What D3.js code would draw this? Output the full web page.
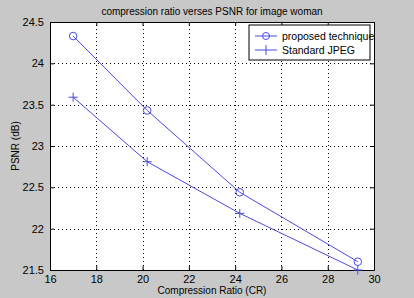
<!DOCTYPE html>
<html>
<head>
<meta charset="utf-8">
<script src="https://cdn.jsdelivr.net/npm/d3@7"></script>
<style>
  body { margin: 0; background: #c8c8c8; }
  svg { display: block; font-family: "Liberation Sans", Arial, sans-serif; }
  .tick text { font-size: 11px; fill: #000; }
</style>
</head>
<body>
<div id="chart"></div>
<script>
// values
const ratios = [17, 20.2, 24.2, 29.3];
const proposed = [24.33, 23.43, 22.44, 21.6];
const jpeg = [23.59, 22.81, 22.185, 21.5];
const xTicks = [16, 18, 20, 22, 24, 26, 28, 30];
const yTicks = [21.5, 22, 22.5, 23, 23.5, 24, 24.5];
const seriesNames = ["proposed technique", "Standard JPEG"];

const W = 414, H = 298;
const m = {left: 50, right: 40, top: 22, bottom: 28};
const lineColor = "#4a4ae0";

const svg = d3.select("#chart").append("svg")
    .attr("width", W).attr("height", H);

svg.append("rect").attr("width", W).attr("height", H).attr("fill", "#c8c8c8");

const x = d3.scaleLinear().domain([16, 30]).range([m.left, W - m.right]);
const y = d3.scaleLinear().domain([21.5, 24.5]).range([H - m.bottom, m.top]);

svg.append("rect")
    .attr("x", x(16)).attr("y", y(24.5))
    .attr("width", x(30) - x(16)).attr("height", y(21.5) - y(24.5))
    .attr("fill", "#fff");

// dotted grid
svg.append("g").selectAll("line").data(xTicks.slice(1, -1)).join("line")
    .attr("x1", d => Math.round(x(d)) + 0.5).attr("x2", d => Math.round(x(d)) + 0.5)
    .attr("y1", y(21.5)).attr("y2", y(24.5))
    .attr("stroke", "#000").attr("stroke-width", 1).attr("stroke-dasharray", "1,3");
svg.append("g").selectAll("line").data(yTicks.slice(1, -1)).join("line")
    .attr("y1", d => Math.round(y(d)) + 0.5).attr("y2", d => Math.round(y(d)) + 0.5)
    .attr("x1", x(16)).attr("x2", x(30))
    .attr("stroke", "#000").attr("stroke-width", 1).attr("stroke-dasharray", "1,3");

// axes
const xAxis = svg.append("g")
    .attr("transform", "translate(0," + y(21.5) + ")")
    .call(d3.axisBottom(x).tickValues(xTicks).tickSize(-4).tickSizeOuter(0).tickPadding(6));
const yAxis = svg.append("g")
    .attr("transform", "translate(" + x(16) + ",0)")
    .call(d3.axisLeft(y).tickValues(yTicks).tickSize(-4).tickSizeOuter(0).tickPadding(6)
        .tickFormat(d3.format("~g")));
svg.append("g")
    .attr("transform", "translate(0," + y(24.5) + ")")
    .call(d3.axisTop(x).tickValues(xTicks).tickSize(-4).tickSizeOuter(0).tickFormat(""));
svg.append("g")
    .attr("transform", "translate(" + x(30) + ",0)")
    .call(d3.axisRight(y).tickValues(yTicks).tickSize(-4).tickSizeOuter(0).tickFormat(""));
svg.selectAll(".domain, .tick line").attr("stroke", "#000");

xAxis.selectAll(".tick text").attr("dy", "0.6em");

// lines
const line = d3.line().x((d, i) => x(ratios[i])).y(d => y(d));
svg.append("g").selectAll("path.series").data([proposed, jpeg]).join("path")
    .attr("class", "series")
    .attr("d", line).attr("fill", "none")
    .attr("stroke", lineColor).attr("stroke-width", 1);

// markers
svg.append("g").selectAll("circle").data(proposed).join("circle")
    .attr("cx", (d, i) => x(ratios[i])).attr("cy", d => y(d)).attr("r", 3.8)
    .attr("fill", "none").attr("stroke", lineColor);
svg.append("g").selectAll("path").data(jpeg).join("path")
    .attr("transform", (d, i) => "translate(" + x(ratios[i]) + "," + y(d) + ")")
    .attr("d", "M-4.5,0H4.5M0,-4.5V4.5")
    .attr("fill", "none").attr("stroke", lineColor);

// title and labels
svg.append("text").attr("x", (x(16) + x(30)) / 2).attr("y", 15)
    .attr("text-anchor", "middle").attr("font-size", 10).text("compression ratio verses PSNR for image woman");
svg.append("text").attr("x", (x(16) + x(30)) / 2).attr("y", 294)
    .attr("text-anchor", "middle").attr("font-size", 10).text("Compression Ratio (CR)");
svg.append("text")
    .attr("transform", "translate(19," + (y(23)) + ") rotate(-90)")
    .attr("text-anchor", "middle").attr("font-size", 10).text("PSNR (dB)");

// legend
const lg = svg.append("g").attr("transform", "translate(249,25)");
lg.append("rect").attr("width", 121).attr("height", 35)
    .attr("fill", "#fff").attr("stroke", "#000");
seriesNames.forEach((name, i) => {
  const yy = 11 + i * 14;
  lg.append("line").attr("x1", 6).attr("x2", 28).attr("y1", yy).attr("y2", yy)
      .attr("stroke", lineColor);
  if (i === 0) {
    lg.append("circle").attr("cx", 17).attr("cy", yy).attr("r", 3.5)
        .attr("fill", "none").attr("stroke", lineColor);
  } else {
    lg.append("path").attr("d", "M17," + (yy - 5) + "V" + (yy + 5)).attr("stroke", lineColor);
  }
  lg.append("text").attr("x", 33).attr("y", yy + 4).attr("font-size", 10.5).text(name);
});
</script>
</body>
</html>
